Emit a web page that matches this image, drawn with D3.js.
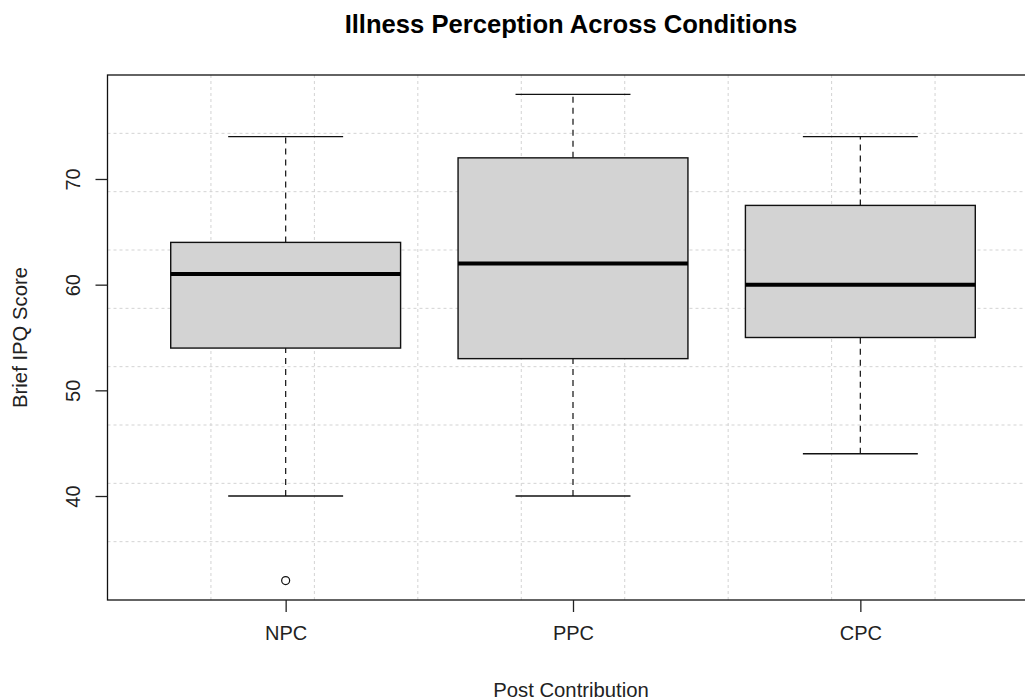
<!DOCTYPE html>
<html>
<head>
<meta charset="utf-8">
<script src="https://cdn.jsdelivr.net/npm/d3@7"></script>
<style>
    body { margin: 0; background: #fff; }
    svg { display: block; font-family: "Liberation Sans", Arial, sans-serif; }
    .grid line { stroke: #d3d3d3; stroke-width: 1; stroke-dasharray: 3,3; }
    .axis text { font-size: 20px; fill: #222; }
    .axis line { stroke: #222; stroke-width: 1.3; }
</style>
</head>
<body>
<div class="container"></div>
<script>
var categories = ['NPC', 'PPC', 'CPC'];
var whiskerLow = [40, 40, 44];
var quartile1 = [54, 53, 55];
var medians = [61, 62, 60];
var quartile3 = [64, 72, 67.5];
var whiskerHigh = [74, 78, 74];
var outlierGroups = ['NPC'];
var outlierValues = [32];
var yTickValues = [40, 50, 60, 70];

const WIDTH = 1025;
const HEIGHT = 700;
const LEFT = 107.5;
const RIGHT = 1038.5;
const TOP = 75;
const BOTTOM = 600;
const BOX_WEX = 0.8;

// R style range: data extent padded by 4%
var padRange = function (lo, hi) {
    var pad = (hi - lo) * 0.04;
    return [lo - pad, hi + pad];
};

var allValues = whiskerLow.concat(whiskerHigh, outlierValues);
var yDomain = padRange(d3.min(allValues), d3.max(allValues));
var xDomain = padRange(0.5, categories.length + 0.5);

var xScale = d3.scaleLinear().domain(xDomain).range([LEFT, RIGHT]);
var yScale = d3.scaleLinear().domain(yDomain).range([BOTTOM, TOP]);

var svg = d3.select('.container').append('svg')
    .attr('width', WIDTH)
    .attr('height', HEIGHT);

// grid like grid(9, 9): splits the plot region into equal cells
var gridX = d3.range(1, 9).map(function (k) { return xDomain[0] + k * (xDomain[1] - xDomain[0]) / 9; });
var gridY = d3.range(1, 9).map(function (k) { return yDomain[0] + k * (yDomain[1] - yDomain[0]) / 9; });

var grid = svg.append('g').attr('class', 'grid');
grid.selectAll('.gx').data(gridX).enter().append('line')
    .attr('class', 'gx')
    .attr('x1', function (d) { return xScale(d); })
    .attr('x2', function (d) { return xScale(d); })
    .attr('y1', TOP).attr('y2', BOTTOM);
grid.selectAll('.gy').data(gridY).enter().append('line')
    .attr('class', 'gy')
    .attr('y1', function (d) { return yScale(d); })
    .attr('y2', function (d) { return yScale(d); })
    .attr('x1', LEFT).attr('x2', RIGHT);

var boxes = svg.selectAll('.box')
    .data(categories)
    .enter().append('g')
    .attr('class', 'box');

var half = BOX_WEX / 2;
var cap = BOX_WEX / 4;

// whiskers
boxes.append('line')
    .attr('x1', function (d, i) { return xScale(i + 1); })
    .attr('x2', function (d, i) { return xScale(i + 1); })
    .attr('y1', function (d, i) { return yScale(whiskerLow[i]); })
    .attr('y2', function (d, i) { return yScale(quartile1[i]); })
    .attr('stroke', '#222').attr('stroke-width', 1.3).attr('stroke-dasharray', '6,5');
boxes.append('line')
    .attr('x1', function (d, i) { return xScale(i + 1); })
    .attr('x2', function (d, i) { return xScale(i + 1); })
    .attr('y1', function (d, i) { return yScale(quartile3[i]); })
    .attr('y2', function (d, i) { return yScale(whiskerHigh[i]); })
    .attr('stroke', '#222').attr('stroke-width', 1.3).attr('stroke-dasharray', '6,5');

// staples
[whiskerLow, whiskerHigh].forEach(function (arr) {
    boxes.append('line')
        .attr('x1', function (d, i) { return xScale(i + 1 - cap); })
        .attr('x2', function (d, i) { return xScale(i + 1 + cap); })
        .attr('y1', function (d, i) { return yScale(arr[i]); })
        .attr('y2', function (d, i) { return yScale(arr[i]); })
        .attr('stroke', '#111').attr('stroke-width', 1.3);
});

boxes.append('rect')
    .attr('x', function (d, i) { return xScale(i + 1 - half); })
    .attr('width', function (d, i) { return xScale(i + 1 + half) - xScale(i + 1 - half); })
    .attr('y', function (d, i) { return yScale(quartile3[i]); })
    .attr('height', function (d, i) { return yScale(quartile1[i]) - yScale(quartile3[i]); })
    .attr('fill', '#d3d3d3')
    .attr('stroke', '#111').attr('stroke-width', 1.4);

boxes.append('line')
    .attr('x1', function (d, i) { return xScale(i + 1 - half); })
    .attr('x2', function (d, i) { return xScale(i + 1 + half); })
    .attr('y1', function (d, i) { return yScale(medians[i]); })
    .attr('y2', function (d, i) { return yScale(medians[i]); })
    .attr('stroke', '#000').attr('stroke-width', 4);

svg.selectAll('.outlier')
    .data(outlierValues)
    .enter().append('circle')
    .attr('class', 'outlier')
    .attr('cx', function (d, i) { return xScale(categories.indexOf(outlierGroups[i]) + 1); })
    .attr('cy', function (d) { return yScale(d); })
    .attr('r', 4)
    .attr('fill', 'none')
    .attr('stroke', '#111').attr('stroke-width', 1.2);

// plot frame
svg.append('rect')
    .attr('x', LEFT).attr('y', TOP)
    .attr('width', RIGHT - LEFT).attr('height', BOTTOM - TOP)
    .attr('fill', 'none')
    .attr('stroke', '#111').attr('stroke-width', 1.3);

var xAxis = d3.axisBottom(xScale)
    .tickValues(d3.range(1, categories.length + 1))
    .tickFormat(function (d) { return categories[d - 1]; })
    .tickSize(12).tickSizeOuter(0).tickPadding(14);

var gx = svg.append('g')
    .attr('class', 'axis')
    .attr('transform', 'translate(0,' + BOTTOM + ')')
    .call(xAxis);
gx.select('.domain').remove();

var yAxis = d3.axisLeft(yScale)
    .tickValues(yTickValues)
    .tickSize(12).tickSizeOuter(0);

var gy = svg.append('g')
    .attr('class', 'axis')
    .attr('transform', 'translate(' + LEFT + ',0)')
    .call(yAxis);
gy.select('.domain').remove();
gy.selectAll('text')
    .attr('x', 0).attr('dy', null)
    .attr('text-anchor', 'middle')
    .attr('transform', 'translate(-28,0) rotate(-90)');

svg.append('text')
    .attr('x', (LEFT + RIGHT) / 2 - 2)
    .attr('y', 33)
    .attr('text-anchor', 'middle')
    .attr('font-size', '25.6px')
    .attr('font-weight', 'bold')
    .attr('fill', '#000')
    .text('Illness Perception Across Conditions');

svg.append('text')
    .attr('x', (LEFT + RIGHT) / 2 - 2)
    .attr('y', 697)
    .attr('text-anchor', 'middle')
    .attr('font-size', '20.3px')
    .attr('fill', '#222')
    .text('Post Contribution');

svg.append('text')
    .attr('transform', 'translate(27,' + (TOP + BOTTOM) / 2 + ') rotate(-90)')
    .attr('text-anchor', 'middle')
    .attr('font-size', '20.3px')
    .attr('fill', '#222')
    .text('Brief IPQ Score');
</script>
</body>
</html>
